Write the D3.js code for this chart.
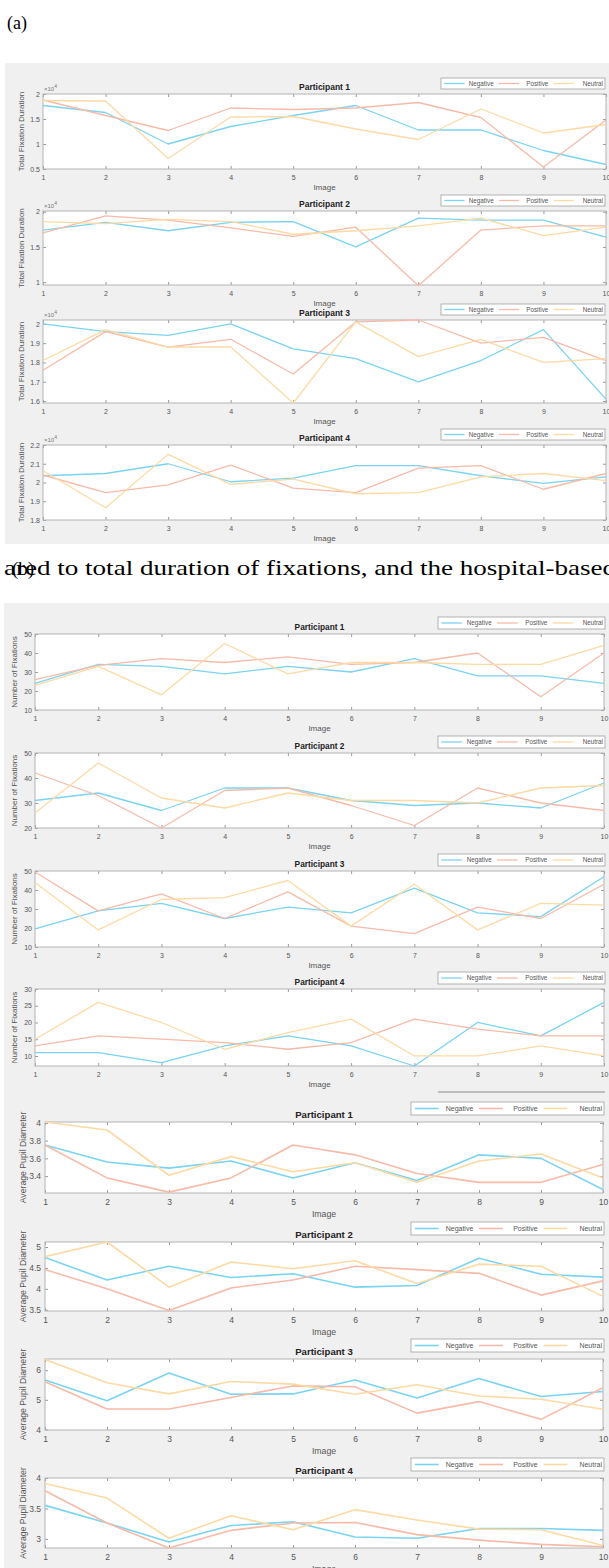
<!DOCTYPE html>
<html>
<head>
<meta charset="utf-8">
<script src="https://cdn.jsdelivr.net/npm/d3@7/dist/d3.min.js"></script>
<style>
  body { margin: 0; background: #fff; }
  svg { display: block; }
</style>
</head>
<body>
<svg id="fig" width="609" height="1568"></svg>
<script>
// x axis: image index
const images = [1, 2, 3, 4, 5, 6, 7, 8, 9, 10];
const seriesNames = ["Negative", "Positive", "Neutral"];
const seriesColors = ["#7ad3f1", "#f8baa8", "#fddaa4"];
const participants = ["Participant 1", "Participant 2", "Participant 3", "Participant 4"];

// (a) total fixation duration (x10^4), rows: Negative, Positive, Neutral
const durationP1 = [
  [1.77, 1.63, 1.00, 1.35, 1.57, 1.77, 1.28, 1.28, 0.87, 0.59],
  [1.88, 1.57, 1.27, 1.72, 1.69, 1.72, 1.83, 1.53, 0.54, 1.48],
  [1.87, 1.86, 0.71, 1.54, 1.55, 1.30, 1.09, 1.70, 1.22, 1.39]
];
const durationP2 = [
  [1.74, 1.85, 1.73, 1.85, 1.86, 1.50, 1.91, 1.88, 1.88, 1.64],
  [1.70, 1.94, 1.88, 1.77, 1.65, 1.78, 0.95, 1.74, 1.80, 1.80],
  [1.86, 1.83, 1.89, 1.86, 1.68, 1.73, 1.80, 1.91, 1.66, 1.78]
];
const durationP3 = [
  [2.00, 1.96, 1.94, 2.00, 1.87, 1.82, 1.70, 1.81, 1.97, 1.61],
  [1.76, 1.96, 1.88, 1.92, 1.74, 2.01, 2.02, 1.90, 1.93, 1.81],
  [1.81, 1.97, 1.88, 1.88, 1.59, 2.01, 1.83, 1.92, 1.80, 1.82]
];
const durationP4 = [
  [2.036, 2.048, 2.10, 2.004, 2.023, 2.09, 2.09, 2.036, 1.995, 2.03],
  [2.04, 1.946, 1.987, 2.093, 1.97, 1.946, 2.077, 2.09, 1.964, 2.048],
  [2.063, 1.865, 2.15, 1.99, 2.018, 1.94, 1.946, 2.03, 2.048, 2.01]
];
const durationDomains = [[0.5, 2], [0.96, 2.01], [1.59, 2.02], [1.8, 2.2]];
const durationTicks = [[0.5, 1, 1.5, 2], [1, 1.5, 2], [1.6, 1.7, 1.8, 1.9, 2], [1.8, 1.9, 2, 2.1, 2.2]];

// (b) number of fixations
const countP1 = [
  [24, 34, 33, 29, 33, 30, 37, 28, 28, 24],
  [26, 33.5, 37, 35, 38, 34, 35, 40, 17, 40],
  [23, 33, 18, 45, 29, 35, 35, 34, 34, 44]
];
const countP2 = [
  [31, 34, 27, 36, 36, 31, 29, 30, 28, 38],
  [42, 33, 20, 35, 36, 29, 21, 36, 30, 27],
  [26, 46, 32, 28, 34, 31, 31, 30, 36, 37]
];
const countP3 = [
  [19.5, 29, 33, 25, 31, 28, 41, 28, 26, 47],
  [49.5, 29, 38, 25, 39, 21, 17, 31, 25, 43],
  [44, 19, 35, 36, 45, 21, 43, 19, 33, 32]
];
const countP4 = [
  [11, 11, 8, 13, 16, 13, 7, 20, 16, 26],
  [13, 16, 15, 14, 12, 14, 21, 18, 16, 16],
  [15, 26, 20, 12, 17, 21, 10, 10, 13, 10]
];
const countDomains = [[10, 50], [20, 50], [10, 50], [7, 30]];
const countTicks = [[10, 20, 30, 40, 50], [20, 30, 40, 50], [10, 20, 30, 40, 50], [10, 15, 20, 25, 30]];

// (c) average pupil diameter
const pupilP1 = [
  [3.75, 3.56, 3.49, 3.57, 3.38, 3.55, 3.35, 3.64, 3.60, 3.25],
  [3.75, 3.38, 3.22, 3.38, 3.75, 3.64, 3.43, 3.33, 3.33, 3.53],
  [4.01, 3.92, 3.41, 3.62, 3.45, 3.55, 3.33, 3.57, 3.65, 3.38]
];
const pupilP2 = [
  [4.75, 4.21, 4.54, 4.27, 4.36, 4.04, 4.08, 4.73, 4.35, 4.28],
  [4.46, 4.00, 3.48, 4.02, 4.21, 4.54, 4.46, 4.37, 3.85, 4.19],
  [4.77, 5.12, 4.04, 4.64, 4.48, 4.67, 4.13, 4.59, 4.54, 3.82]
];
const pupilP3 = [
  [5.67, 4.97, 5.91, 5.19, 5.20, 5.67, 5.06, 5.72, 5.11, 5.28],
  [5.61, 4.69, 4.69, 5.08, 5.47, 5.44, 4.55, 4.94, 4.34, 5.41],
  [6.36, 5.58, 5.20, 5.62, 5.53, 5.19, 5.51, 5.13, 5.02, 4.68]
];
const pupilP4 = [
  [3.55, 3.26, 2.95, 3.22, 3.28, 3.03, 3.01, 3.17, 3.17, 3.14],
  [3.79, 3.26, 2.85, 3.14, 3.26, 3.27, 3.07, 2.98, 2.91, 2.87],
  [3.91, 3.67, 3.01, 3.38, 3.15, 3.48, 3.31, 3.16, 3.15, 2.89]
];
const pupilDomains = [[3.21, 4.01], [3.47, 5.12], [3.98, 6.38], [2.85, 4.0]];
const pupilTicks = [[3.4, 3.6, 3.8, 4], [3.5, 4, 4.5, 5], [4, 5, 6], [3, 3.5, 4]];

const svg = d3.select("#fig");
const sans = "'Liberation Sans', Arial, sans-serif";
const serif = "'Times New Roman', 'Liberation Serif', serif";

// 背景
svg.append("rect").attr("x", 5).attr("y", 63).attr("width", 604).attr("height", 481).attr("fill", "#f0f0f0");
svg.append("rect").attr("x", 4).attr("y", 603).attr("width", 605).attr("height", 965).attr("fill", "#f0f0f0");

svg.append("text").attr("x", 7).attr("y", 29)
  .attr("font-family", serif).attr("font-size", 18).text("(a)");

// 正文残行 + (b) 标签（原图中两者重叠）
svg.append("text").attr("x", 4).attr("y", 575)
  .attr("font-family", serif).attr("font-size", 22)
  .attr("textLength", 612).attr("lengthAdjust", "spacingAndGlyphs")
  .text("ared to total duration of fixations, and the hospital-based");
svg.append("text").attr("x", 12).attr("y", 575)
  .attr("font-family", serif).attr("font-size", 19).text("(b)");

// 分隔线
svg.append("line").attr("x1", 438).attr("x2", 605).attr("y1", 1092).attr("y2", 1092)
  .attr("stroke", "#8a8a8a").attr("stroke-width", 1);

const fmt = d3.format("~g");

function drawPanel(p) {
  const x = d3.scaleLinear().domain([1, 10]).range([p.left, p.right]);
  const y = d3.scaleLinear().domain(p.domain).range([p.bottom, p.top]);
  const g = svg.append("g");
  const st = p.style;

  g.append("rect")
    .attr("x", p.left).attr("y", p.top)
    .attr("width", p.right - p.left).attr("height", p.bottom - p.top)
    .attr("fill", "#fff");

  const axes = [
    { ax: d3.axisBottom(x).tickValues(images).tickFormat(fmt).tickPadding(st.xPad), t: `translate(0,${p.bottom})` },
    { ax: d3.axisTop(x).tickValues(images).tickFormat(""), t: `translate(0,${p.top})` },
    { ax: d3.axisLeft(y).tickValues(p.ticks).tickFormat(fmt).tickPadding(st.yPad), t: `translate(${p.left},0)` },
    { ax: d3.axisRight(y).tickValues(p.ticks).tickFormat(""), t: `translate(${p.right},0)` }
  ];
  axes.forEach(a => {
    const ag = g.append("g").attr("transform", a.t)
      .call(a.ax.tickSize(-3).tickSizeOuter(0));
    ag.select(".domain").remove();
    ag.selectAll("line").attr("stroke", "#9a9a9a");
    ag.selectAll("text")
      .attr("font-family", sans).attr("font-size", st.tick).attr("fill", "#555");
    ag.attr("font-family", null).attr("font-size", null);
  });

  g.append("rect")
    .attr("x", p.left).attr("y", p.top)
    .attr("width", p.right - p.left).attr("height", p.bottom - p.top)
    .attr("fill", "none").attr("stroke", "#b4b4b4").attr("stroke-width", 1);

  // 三条折线
  const line = d3.line().x((d, i) => x(images[i])).y(d => y(d));
  p.series.forEach((vals, k) => {
    g.append("path").datum(vals)
      .attr("d", line)
      .attr("fill", "none")
      .attr("stroke", seriesColors[k])
      .attr("stroke-width", st.lw)
      .attr("stroke-linejoin", "round");
  });

  const cx = (p.left + p.right) / 2;
  g.append("text").attr("x", cx).attr("y", p.top - st.titleGap)
    .attr("text-anchor", "middle").attr("font-family", sans)
    .attr("font-weight", "bold").attr("font-size", st.title).attr("fill", "#222")
    .text(p.title);

  g.append("text").attr("x", cx).attr("y", p.bottom + st.xlabGap)
    .attr("text-anchor", "middle").attr("font-family", sans)
    .attr("font-size", st.label).attr("fill", "#555")
    .text("Image");

  g.append("text")
    .attr("transform", `translate(${st.ylabX},${(p.top + p.bottom) / 2}) rotate(-90)`)
    .attr("text-anchor", "middle").attr("font-family", sans)
    .attr("font-size", st.label).attr("fill", "#555")
    .text(p.ylabel);

  if (p.exponent) {
    const e = g.append("text").attr("x", p.left + 1).attr("y", p.top - 3)
      .attr("font-family", sans).attr("font-size", 6).attr("fill", "#777");
    e.append("tspan").text("×10");
    e.append("tspan").attr("dy", -3).attr("font-size", 5).text("4");
  }

  // 图例
  const lg = st.legend;
  const ly = p.top - lg.off;
  g.append("rect").attr("x", lg.x0).attr("y", ly)
    .attr("width", lg.x1 - lg.x0).attr("height", lg.h)
    .attr("fill", "#fff").attr("stroke", "#a0a0a0").attr("stroke-width", 0.8);
  const ew = (lg.x1 - lg.x0) / 3;
  seriesNames.forEach((name, k) => {
    const ex = lg.x0 + k * ew;
    g.append("line")
      .attr("x1", ex + ew * 0.06).attr("x2", ex + ew * 0.43)
      .attr("y1", ly + lg.h / 2).attr("y2", ly + lg.h / 2)
      .attr("stroke", seriesColors[k]).attr("stroke-width", st.lw);
    g.append("text").attr("x", ex + ew - 2).attr("y", ly + lg.h / 2)
      .attr("dy", "0.35em").attr("text-anchor", "end")
      .attr("font-family", sans).attr("font-size", lg.font).attr("fill", "#555")
      .text(name);
  });
}

const styleA = { tick: 7, label: 8, title: 8.5, lw: 1.3, xPad: 6, yPad: 3, titleGap: 4, xlabGap: 21, ylabX: 24,
  legend: { x0: 441, x1: 605, off: 16, h: 11, font: 6.3 } };
const styleB = { tick: 7, label: 8, title: 8.3, lw: 1.3, xPad: 6, yPad: 3, titleGap: 4, xlabGap: 21, ylabX: 17,
  legend: { x0: 438, x1: 605, off: 17, h: 12, font: 6.3 } };
const styleC = { tick: 8.5, label: 8.7, title: 9.6, lw: 1.6, xPad: 6, yPad: 4, titleGap: 4, xlabGap: 24, ylabX: 26,
  legend: { x0: 411, x1: 604, off: 20, h: 13, font: 7 } };

const durationData = [durationP1, durationP2, durationP3, durationP4];
const countData = [countP1, countP2, countP3, countP4];
const pupilData = [pupilP1, pupilP2, pupilP3, pupilP4];

const boxA = [[94, 169], [211, 285], [320, 403], [445, 520]];
const boxB = [[634, 710], [753, 828], [871, 947], [989, 1066]];
const boxC = [[1122, 1193], [1242, 1311], [1359, 1430], [1478, 1548]];

participants.forEach((name, i) => {
  drawPanel({ left: 43, right: 606, top: boxA[i][0], bottom: boxA[i][1],
    domain: durationDomains[i], ticks: durationTicks[i], series: durationData[i],
    title: name, ylabel: "Total Fixation Duration", exponent: true, style: styleA });
  drawPanel({ left: 35, right: 604, top: boxB[i][0], bottom: boxB[i][1],
    domain: countDomains[i], ticks: countTicks[i], series: countData[i],
    title: name, ylabel: "Number of Fixations", exponent: false, style: styleB });
  drawPanel({ left: 45, right: 603, top: boxC[i][0], bottom: boxC[i][1],
    domain: pupilDomains[i], ticks: pupilTicks[i], series: pupilData[i],
    title: name, ylabel: "Average Pupil Diameter", exponent: false, style: styleC });
});
</script>
</body>
</html>
